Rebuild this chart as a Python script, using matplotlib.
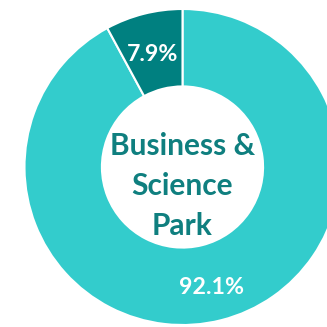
import matplotlib
matplotlib.use("Agg")
import matplotlib.pyplot as plt

# data
shares = [92.1, 7.9]
colors = ["#33CCCC", "#008080"]
center_label = "Business &\nScience\nPark"

plt.rcParams['font.family'] = ['Lato', 'DejaVu Sans']

fig = plt.figure(figsize=(3.27, 3.27), dpi=100)
ax = fig.add_axes([0, 0, 1, 1])

wedges, texts, autotexts = ax.pie(
    shares, colors=colors, startangle=90, counterclock=False,
    radius=1.0, pctdistance=0.76, autopct='%.1f%%',
    wedgeprops=dict(width=0.49, edgecolor='white', linewidth=1.5),
)
for t in autotexts:
    t.set_color('white')
    t.set_fontsize(16.7)
    t.set_fontweight('bold')
    x, y = t.get_position()
    t.set_position((x, y - 0.025))

ax.text(0, -0.12, center_label, ha='center', va='center', color='#0F7F7F',
        fontsize=21.5, fontweight='bold', linespacing=1.52)

# circle centre at (182.5, 167) px, radius 158 px
R = 158.0
ax.set_xlim(-182.5 / R, (327 - 182.5) / R)
ax.set_ylim((167 - 327) / R, 167 / R)
ax.set_aspect('equal')
ax.axis('off')

fig.savefig("out.png", dpi=100)
